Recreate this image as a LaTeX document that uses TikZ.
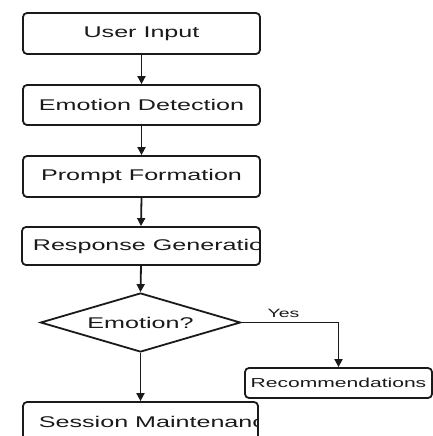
\documentclass[tikz,border=0pt]{standalone}
\usepackage{fontspec}
\setmainfont[FakeStretch=1.62]{Liberation Sans}
\usetikzlibrary{arrows.meta,shapes.geometric}
\definecolor{ink}{HTML}{1A1A1A}
\begin{document}
\begin{tikzpicture}[x=1pt,y=1pt,
  line/.style={draw=ink,line width=1.8pt},
  arr/.style={line,-{Triangle[length=8pt,width=8pt]}},
  txt/.style={text=ink,font=\fontsize{15.5}{18}\selectfont,inner sep=0pt},
  box/.style={line,rounded corners=4pt,inner sep=0pt},
  ctext/.style={path picture={\node[txt] at (path picture bounding box.center) {#1};}},
  ltext/.style 2 args={path picture={\node[txt,anchor=west] at ([xshift=#1]path picture bounding box.west) {#2};}}
]
\clip (0,0) rectangle (433,-436);
\fill[white] (0,0) rectangle (433,-436);

\node[box,minimum width=237pt,minimum height=41pt,ctext={User Input}] (ui) at (141.5,-33.5) {};
\node[box,minimum width=237pt,minimum height=40pt,ctext={Emotion Detection}] (ed) at (141.5,-105) {};
\node[box,minimum width=237pt,minimum height=41pt,ctext={Prompt Formation}] (pf) at (141.5,-176.5) {};
\node[box,minimum width=238pt,minimum height=38pt,ltext={10pt}{Response Generation}] (rg) at (141,-246) {};
\node[line,diamond,aspect=3.39,inner sep=0pt,minimum width=200pt,minimum height=59pt] (em) at (140.5,-322.5) {};
\node[txt] (emt) at (em.center) {Emotion?};
\node[box,minimum width=187pt,minimum height=30pt,
  path picture={\node[txt,font=\fontsize{13}{15}\selectfont] at (path picture bounding box.center) {Recommendations};}] (rec) at (338.5,-383) {};
\node[box,minimum width=235pt,minimum height=40pt,ltext={15pt}{Session Maintenance}] (sm) at (140.5,-422) {};

\draw[arr] (ui.south) -- (ed.north);
\draw[arr] (ed.south) -- (pf.north);
\draw[arr] (pf.south) -- (rg.north);
\draw[arr] (rg.south) -- (em.north);
\draw[arr] (em.south) -- (sm.north);
\draw[arr] (em.east) -| (rec.north);
\node[txt,font=\fontsize{12}{14}\selectfont] (yes) at (283.5,-313) {Yes};
\end{tikzpicture}
\end{document}
